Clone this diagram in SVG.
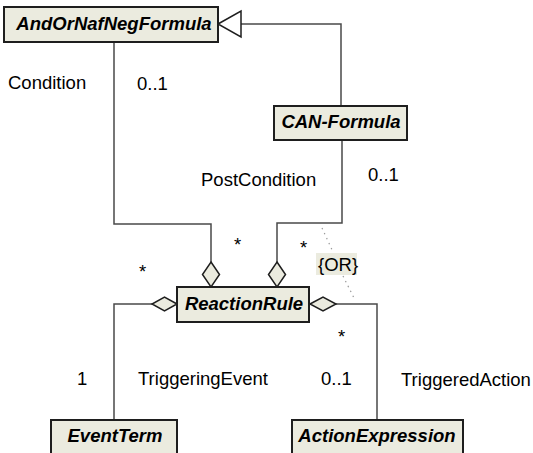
<svg xmlns="http://www.w3.org/2000/svg" width="533" height="453" viewBox="0 0 533 453">
<style>
.box{fill:#ebebdf;stroke:#1e1e1e;stroke-width:2}
.name{font-family:"Liberation Sans",Arial,sans-serif;font-size:18.5px;font-weight:bold;font-style:italic;fill:#000;text-anchor:middle}
.lbl{font-family:"Liberation Sans",Arial,sans-serif;font-size:18.5px;fill:#000}
.ln{fill:none;stroke:#4a4a4a;stroke-width:1.5}
.dia{fill:#ebebdf;stroke:#1e1e1e;stroke-width:1.5}
.dot{fill:none;stroke:#999;stroke-width:1.2;stroke-dasharray:1.5 4}
</style>
<rect width="533" height="453" fill="#fff"/>
<g id="connectors">
<polyline class="ln" points="341,106 341,24 241,24"/>
<polygon points="218,24 241,11 241,37" fill="#fff" stroke="#1e1e1e" stroke-width="1.5"/>
<polyline class="ln" points="114,42 114,224 211,224 211,262"/>
<polygon class="dia" points="211,262 219.5,274.5 211,287 202.5,274.5"/>
<polyline class="ln" points="342,140 342,223 277,223 277,262"/>
<polygon class="dia" points="277,262 285.5,274.5 277,287 268.5,274.5"/>
<polyline class="ln" points="152,304 114,304 114,420"/>
<polygon class="dia" points="177,304 164.5,297 152,304 164.5,311"/>
<polyline class="ln" points="336,304 377,304 377,420"/>
<polygon class="dia" points="310,304 323,297 336,304 323,311"/>
<line class="dot" x1="322" y1="228" x2="333" y2="252"/>
<line class="dot" x1="343" y1="276" x2="355" y2="300"/>
<rect x="316" y="253" width="41" height="22" fill="#ebebdf"/>
<text class="lbl" x="318" y="271">{OR}</text>
<text class="lbl" x="8" y="89">Condition</text>
<text class="lbl" x="137" y="90">0..1</text>
<text class="lbl" x="201" y="186">PostCondition</text>
<text class="lbl" x="368" y="181">0..1</text>
<text class="lbl" x="234" y="251">*</text>
<text class="lbl" x="300" y="254">*</text>
<text class="lbl" x="139" y="278">*</text>
<text class="lbl" x="338" y="343">*</text>
<text class="lbl" x="77" y="385">1</text>
<text class="lbl" x="138" y="385">TriggeringEvent</text>
<text class="lbl" x="321" y="385">0..1</text>
<text class="lbl" x="401" y="386">TriggeredAction</text>
</g>
<g id="AndOrNafNegFormula">
<rect class="box" x="4" y="7" width="214" height="35"/>
<text class="name" x="114" y="30">AndOrNafNegFormula</text>
</g>
<g id="CAN-Formula">
<rect class="box" x="274" y="106" width="133" height="34"/>
<text class="name" x="341" y="128">CAN-Formula</text>
</g>
<g id="ReactionRule">
<rect class="box" x="177" y="287" width="132" height="35"/>
<text class="name" x="244" y="310">ReactionRule</text>
</g>
<g id="EventTerm">
<rect class="box" x="51" y="420" width="126" height="45"/>
<text class="name" x="115" y="442">EventTerm</text>
</g>
<g id="ActionExpression">
<rect class="box" x="292" y="420" width="171" height="45"/>
<text class="name" x="377" y="442">ActionExpression</text>
</g>
</svg>
